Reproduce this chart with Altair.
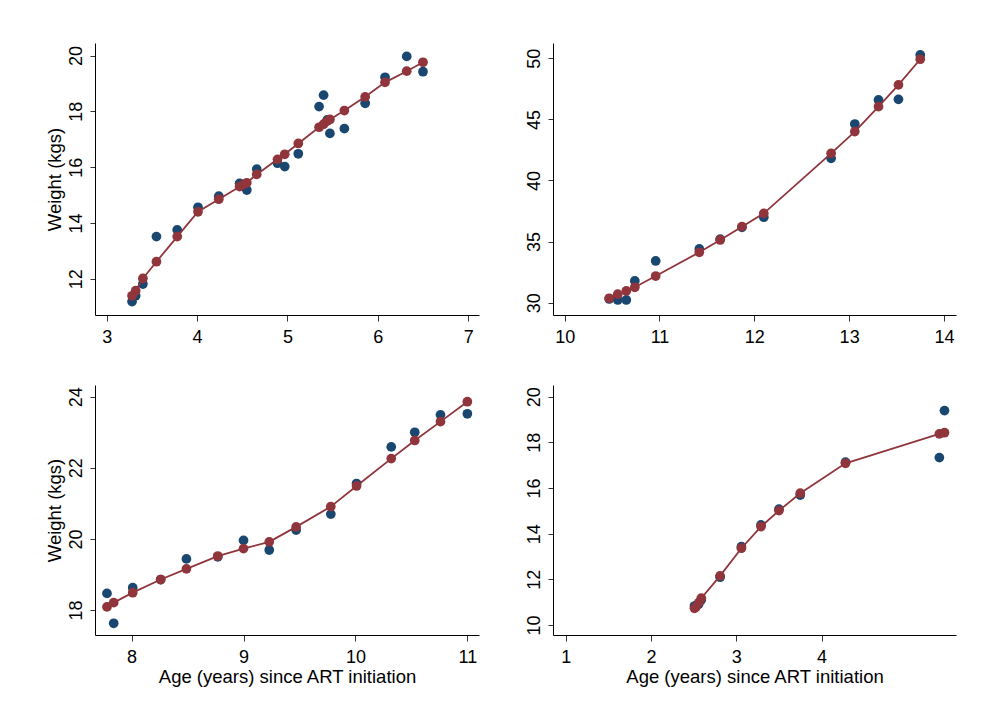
import altair as alt
import pandas as pd

# Colours (Stata s2 navy / maroon)
BLUE = "#1a476f"
RED = "#90353b"
FONT = "Liberation Sans"

# Child A
age_a = [3.28, 3.32, 3.40, 3.55, 3.78, 4.01, 4.24, 4.47, 4.52, 4.55, 4.66, 4.89,
         4.97, 5.12, 5.35, 5.40, 5.44, 5.47, 5.63, 5.86, 6.08, 6.32, 6.50]
obs_a = [11.18, 11.39, 11.81, 13.51, 13.75, 14.56, 14.96, 15.42, 15.36, 15.18, 15.93, 16.14,
         16.02, 16.48, 18.17, 18.58, 17.69, 17.21, 17.38, 18.29, 19.22, 19.97, 19.42]
fit_a = [11.39, 11.57, 12.01, 12.61, 13.51, 14.40, 14.85, 15.30, 15.39, 15.44, 15.74, 16.28,
         16.46, 16.85, 17.43, 17.54, 17.65, 17.71, 18.03, 18.52, 19.04, 19.44, 19.76]

# Child B
age_b = [10.47, 10.56, 10.65, 10.74, 10.96, 11.42, 11.64, 11.87, 12.10, 12.81, 13.06, 13.31, 13.52, 13.75]
obs_b = [30.30, 30.22, 30.22, 31.78, 33.41, 34.40, 35.19, 36.17, 36.99, 41.81, 44.62, 46.59, 46.64, 50.27]
fit_b = [30.36, 30.69, 30.96, 31.26, 32.18, 34.12, 35.13, 36.22, 37.31, 42.22, 44.00, 46.04, 47.82, 49.92]

# Child C
age_c = [7.78, 7.84, 8.01, 8.26, 8.49, 8.77, 9.00, 9.23, 9.47, 9.78, 10.01, 10.32, 10.53, 10.76, 11.00]
obs_c = [18.47, 17.63, 18.63, 18.86, 19.44, 19.50, 19.96, 19.69, 20.25, 20.70, 21.56, 22.59, 23.00, 23.49, 23.52]
fit_c = [18.09, 18.21, 18.49, 18.86, 19.16, 19.52, 19.73, 19.92, 20.34, 20.91, 21.49, 22.26, 22.77, 23.30, 23.86]

# Child D
age_d = [2.51, 2.53, 2.56, 2.59, 2.81, 3.06, 3.29, 3.50, 3.75, 4.28, 5.38, 5.44]
obs_d = [10.83, 10.85, 10.92, 11.10, 12.09, 13.43, 14.38, 15.07, 15.69, 17.13, 17.33, 19.39]
fit_d = [10.73, 10.80, 10.98, 11.17, 12.15, 13.36, 14.31, 15.01, 15.77, 17.08, 18.37, 18.42]

X_TITLE = "Age (years) since ART initiation"
Y_TITLE = "Weight (kgs)"


def panel(age, obs, fit, xdom, ydom, xticks, yticks, xtitle, ytitle, w, h):
    df = pd.concat([
        pd.DataFrame({"age": age, "weight": obs, "kind": "observed"}),
        pd.DataFrame({"age": age, "weight": fit, "kind": "fitted"}),
    ], ignore_index=True)

    xaxis = alt.Axis(values=xticks, format="d", title=xtitle) if xtitle else alt.Axis(values=xticks, format="d", title=None)
    yaxis = alt.Axis(values=yticks, format="d", title=ytitle) if ytitle else alt.Axis(values=yticks, format="d", title=None)
    x = alt.X("age:Q", scale=alt.Scale(domain=xdom, nice=False, zero=False), axis=xaxis)
    y = alt.Y("weight:Q", scale=alt.Scale(domain=ydom, nice=False, zero=False), axis=yaxis)

    base = alt.Chart(df).encode(x=x, y=y)
    observed = base.transform_filter(alt.datum.kind == "observed").mark_circle(
        size=95, color=BLUE, opacity=1)
    line = base.transform_filter(alt.datum.kind == "fitted").mark_line(
        color=RED, strokeWidth=1.8)
    fitted = base.transform_filter(alt.datum.kind == "fitted").mark_circle(
        size=95, color=RED, opacity=1)
    return alt.layer(observed, line, fitted).properties(width=w, height=h)


p1 = panel(age_a, obs_a, fit_a, [2.87, 7.12], [10.70, 20.45],
           [3, 4, 5, 6, 7], [12, 14, 16, 18, 20], None, Y_TITLE, 384, 272)
p2 = panel(age_b, obs_b, fit_b, [9.877, 14.127], [28.99, 51.25],
           [10, 11, 12, 13, 14], [30, 35, 40, 45, 50], None, None, 403, 272)
p3 = panel(age_c, obs_c, fit_c, [7.673, 11.104], [17.30, 24.33],
           [8, 9, 10, 11], [18, 20, 22, 24], X_TITLE, Y_TITLE, 384, 250)
p4 = panel(age_d, obs_d, fit_d, [0.852, 5.575], [9.56, 20.51],
           [1, 2, 3, 4], [10, 12, 14, 16, 18, 20], X_TITLE, None, 403, 250)

chart = alt.concat(
    p1, p2, p3, p4, columns=2, spacing={"row": 70, "column": 74}, bounds="flush"
).properties(
    padding={"left": 45, "top": 43, "right": 25, "bottom": 34},
    background="white",
).configure_view(
    strokeWidth=0
).configure_axis(
    grid=False,
    domainColor="#000000",
    domainWidth=1,
    tickColor="#333333",
    tickWidth=1,
    labelFont=FONT,
    labelFontSize=18,
    labelColor="#000000",
    titleFont=FONT,
    titleFontSize=18.5,
    titleFontWeight="normal",
    titleColor="#000000",
    labelFlush=False,
    labelOverlap=False,
    labelBound=False,
).configure_axisX(
    tickSize=6,
    labelPadding=7,
    titlePadding=1,
).configure_axisY(
    tickSize=5,
    labelAngle=270,
    labelAlign="center",
    labelBaseline="alphabetic",
    labelPadding=9,
    titlePadding=3,
)

chart.save("out.html", embed_options={"renderer": "svg", "actions": False})
